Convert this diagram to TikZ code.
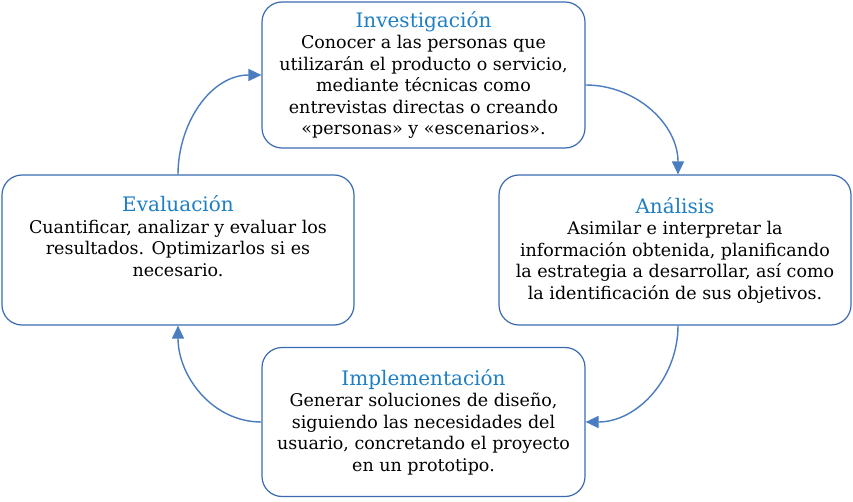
\documentclass[tikz,border=0pt]{standalone}
\usepackage{fontspec}
\setmainfont{DejaVu Serif}
\usetikzlibrary{arrows.meta}
\definecolor{boxline}{HTML}{3A6BB0}
\definecolor{titleblue}{HTML}{1F7FC4}
\definecolor{arrowblue}{HTML}{4A7CC0}
\tikzset{
  phasebox/.style={draw=boxline,line width=1.2pt,rounded corners=20pt,align=center,
    inner sep=0pt,font=\fontsize{17.5}{21.5}\selectfont},
  cyclearrow/.style={draw=arrowblue,line width=1.4pt,-{Triangle[length=13pt,width=12pt]}}
}
\newcommand{\phasetitle}[1]{{\color{titleblue}\fontsize{20}{23}\selectfont #1}\\}
\begin{document}
\begin{tikzpicture}[x=1pt,y=1pt]
  \useasboundingbox (0,0) rectangle (853,501);
  \fill[white] (0,0) rectangle (853,501);
  \node[phasebox,minimum width=323pt,minimum height=146pt] (inv) at (423.5,426)
    {\phasetitle{Investigación}Conocer a las personas que\\utilizarán el producto o servicio,\\mediante técnicas como\\entrevistas directas o creando\\«personas» y «escenarios».};
  \node[phasebox,minimum width=352pt,minimum height=150pt] (ana) at (675,251)
    {\phasetitle{Análisis}Asimilar e interpretar la\\información obtenida, planificando\\la estrategia a desarrollar, así como\\la identificación de sus objetivos.};
  \node[phasebox,minimum width=352pt,minimum height=150pt] (eva) at (178,251)
    {\phasetitle{Evaluación}Cuantificar, analizar y evaluar los\\resultados. Optimizarlos si es\\necesario.\\[6pt]};
  \node[phasebox,minimum width=323pt,minimum height=149pt] (imp) at (423.5,79)
    {\phasetitle{Implementación}Generar soluciones de diseño,\\siguiendo las necesidades del\\usuario, concretando el proyecto\\en un prototipo.};
  \draw[cyclearrow] ([yshift=-10pt]inv.east) to[out=0,in=90] ([xshift=3pt]ana.north);
  \draw[cyclearrow] ([xshift=3pt]ana.south) to[out=-90,in=0] (imp.east);
  \draw[cyclearrow] (imp.west) to[out=180,in=-90] (eva.south);
  \draw[cyclearrow] (eva.north) to[out=90,in=180] (inv.west);
\end{tikzpicture}
\end{document}
